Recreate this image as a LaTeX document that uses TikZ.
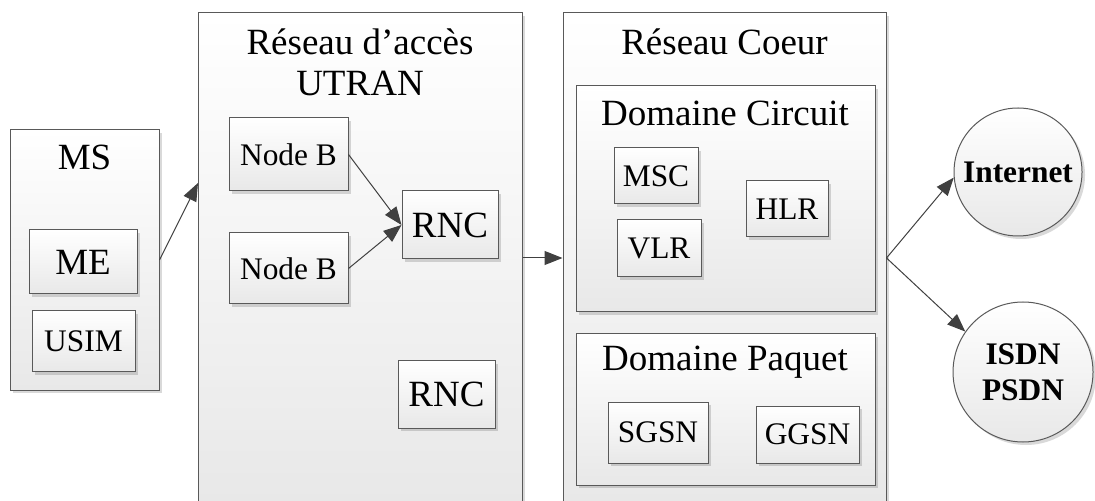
\documentclass[tikz,border=0pt]{standalone}
\usepackage{fontspec}
\setmainfont{Liberation Serif}
\usetikzlibrary{arrows.meta,fit,shadows}
\tikzset{>=Latex}
\newcommand{\bigtxt}{\fontsize{18.5}{20.5}\selectfont}
\newcommand{\smalltxt}{\fontsize{15.7}{18}\selectfont}
\tikzset{
  shade/.style={draw=black!65, line width=0.5pt, top color=white, bottom color=black!9,
    drop shadow={shadow xshift=1.5pt, shadow yshift=-1.5pt, fill=black, opacity=0.15}},
  cont/.style={shade, inner sep=0pt},
  box/.style={shade, font=\smalltxt, inner sep=0pt},
  cloud/.style={shade, circle, font=\smalltxt\bfseries, align=center, inner sep=0pt},
  title/.style={font=\bigtxt, align=center},
  link/.style={-{Triangle[length=9pt,width=7pt]}, draw=black!75, line width=0.5pt}
}

\begin{document}
\begin{tikzpicture}[x=0.5pt,y=-0.5pt]
  \useasboundingbox (0,0) rectangle (1095,501);
  \clip (0,0) rectangle (1095,501);
  % MS
  \node[cont, fit={(10,130) (159,390)}] (ms) {};
  \node[title] (mst) at (84.5,157) {MS};
  \node[box, font=\bigtxt, minimum width=54pt, minimum height=32pt] (me) at (83,262) {ME};
  \node[box, minimum width=51.5pt, minimum height=30.5pt] (usim) at (83.5,341.5) {USIM};
  % UTRAN
  \node[cont, fit={(198,13) (522,503)}] (utran) {};
  \node[title] (utrant) at (360,62) {Réseau d’accès\\UTRAN};
  \node[box, minimum width=59.5pt, minimum height=36.5pt] (nb1) at (288.5,154.5) {Node B};
  \node[box, minimum width=59.5pt, minimum height=35.5pt] (nb2) at (288.5,268.5) {Node B};
  \node[box, font=\bigtxt, minimum width=48pt, minimum height=34pt] (rnc1) at (450,225) {RNC};
  \node[box, font=\bigtxt, minimum width=48.5pt, minimum height=33.5pt] (rnc2) at (446.5,394.5) {RNC};
  % Reseau coeur
  \node[cont, fit={(563,13) (886,503)}] (core) {};
  \node[title] (coret) at (724.5,42) {Réseau Coeur};
  \node[cont, fit={(576,86) (875,312)}] (cs) {};
  \node[title] (cst) at (725,113) {Domaine Circuit};
  \node[box, minimum width=42pt, minimum height=28pt] (msc) at (656,176) {MSC};
  \node[box, minimum width=42pt, minimum height=28.5pt] (vlr) at (659,248.5) {VLR};
  \node[box, minimum width=41pt, minimum height=28pt] (hlr) at (787,209) {HLR};
  \node[cont, fit={(576,334) (875,485)}] (ps) {};
  \node[title] (pst) at (725,362) {Domaine Paquet};
  \node[box, minimum width=50pt, minimum height=30.5pt] (sgsn) at (658,432.5) {SGSN};
  \node[box, minimum width=51.5pt, minimum height=28.5pt] (ggsn) at (807.5,434.5) {GGSN};
  % external networks
  \node[cloud, minimum size=64pt] (inet) at (1018,172) {Internet};
  \node[cloud, minimum size=70pt] (isdn) at (1023,372) {ISDN\\PSDN};
  % links
  \coordinate (in) at (198,183);
  \draw[link] (ms.east) -- (in);
  \draw[link] (nb1.east) -- (rnc1.west);
  \draw[link] (nb2.east) -- (rnc1.west);
  \draw[link] (utran.east) -- (core.west);
  \draw[link] (core.east) -- (inet.185);
  \draw[link] (core.east) -- (isdn.145);
\end{tikzpicture}
\end{document}
